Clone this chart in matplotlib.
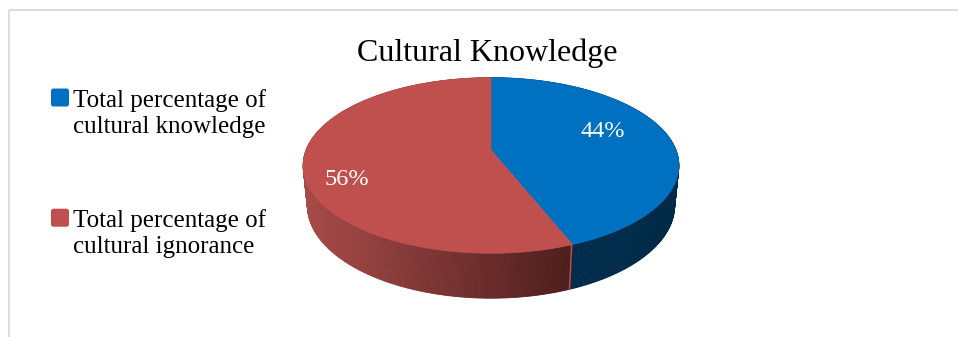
import numpy as np
import matplotlib
matplotlib.use("Agg")
import matplotlib.pyplot as plt
from matplotlib.patches import Polygon, Rectangle, FancyBboxPatch
import matplotlib.colors as mcolors

# ---- data ----
title = "Cultural Knowledge"
categories = ["Total percentage of\ncultural knowledge",
              "Total percentage of\ncultural ignorance"]
values = [44, 56]
value_labels = [f"{v}%" for v in values]

# ---- styles ----
top_colors = ["#0070C0", "#C0504D"]
side_colors = [("#002C4B", "#002A48"), ("#A84B49", "#4C1D1C")]
serif = ["Liberation Serif", "DejaVu Serif"]

# ---- layout (pixel space) ----
W, H = 958, 337
pie_cx, pie_cy = 491, 150        # projected centre of the top face
pie_scale = 931                  # pixels per projected unit
elev = np.arcsin(0.46)           # camera elevation
dist = 5.035                     # camera distance (disc radius = 1)
thick = 0.2456                   # disc thickness
label_pos = [(602.5, 137), (346.5, 185)]
legend_x_box, legend_x_text = 51, 73
legend_baselines = [(106.5, 133), (226.7, 253.3)]

fig = plt.figure(figsize=(W / 100, H / 100), dpi=100)
ax = fig.add_axes([0, 0, 1, 1])
ax.set_xlim(0, W)
ax.set_ylim(H, 0)
ax.axis("off")


def project(x, y, z):
    """Perspective projection of 3-D points to pixel coordinates."""
    s, c = np.sin(elev), np.cos(elev)
    qy = y - dist * s
    qz = z - dist * c
    depth = -(qy * s + qz * c)
    sx = x / depth
    sy = (qy * c - qz * s) / depth
    return pie_cx + pie_scale * sx, pie_cy - pie_scale * sy


def rim(phi, level):
    return project(np.sin(phi), np.full_like(phi, level), -np.cos(phi))


# slice angles, clockwise from 12 o'clock
fracs = np.array(values, dtype=float) / np.sum(values)
bounds = np.concatenate([[0], np.cumsum(fracs)]) * 2 * np.pi

# ---- side wall ----
quads = []
for i in range(len(values)):
    a0, a1 = bounds[i], bounds[i + 1]
    n = max(int((a1 - a0) / (2 * np.pi) * 720), 8)
    phis = np.linspace(a0, a1, n + 1)
    tx, ty = rim(phis, 0.0)
    bx, by = rim(phis, -thick)
    # visible part: facing the viewer (front half)
    front = -np.cos(phis) > -0.15
    xs_vis = tx[front] if front.any() else tx
    xmin, xmax = xs_vis.min(), xs_vis.max()
    light, dark = (np.array(mcolors.to_rgb(c)) for c in side_colors[i])
    for k in range(n):
        xm = 0.5 * (tx[k] + tx[k + 1])
        t = np.clip((xm - xmin) / max(xmax - xmin, 1e-6), 0, 1)
        col = light * (1 - t) + dark * t
        zmid = -np.cos(0.5 * (phis[k] + phis[k + 1]))
        pts = [(tx[k], ty[k]), (tx[k + 1], ty[k + 1]),
               (bx[k + 1], by[k + 1]), (bx[k], by[k])]
        quads.append((zmid, pts, col))

quads.sort(key=lambda q: q[0])
for _, pts, col in quads:
    ax.add_patch(Polygon(pts, closed=True, facecolor=col, edgecolor=col,
                         linewidth=0.6, zorder=2))

# light seam on the wall where the slices meet (front boundary)
for b in bounds[1:-1]:
    if -np.cos(b) > 0:
        sx0, sy0 = rim(np.array([b]), 0.0)
        sx1, sy1 = rim(np.array([b]), -thick)
        ax.plot([sx0[0] - 0.8, sx1[0] - 0.8], [sy0[0], sy1[0]],
                color="#B5544F", linewidth=1.0, zorder=3)

# ---- top faces ----
ccx, ccy = project(np.array([0.0]), np.array([0.0]), np.array([0.0]))
for i in range(len(values)):
    a0, a1 = bounds[i], bounds[i + 1]
    n = max(int((a1 - a0) / (2 * np.pi) * 720), 8)
    phis = np.linspace(a0, a1, n + 1)
    tx, ty = rim(phis, 0.0)
    pts = [(ccx[0], ccy[0])] + list(zip(tx, ty))
    ax.add_patch(Polygon(pts, closed=True, facecolor=top_colors[i],
                         edgecolor=top_colors[i], linewidth=0.5, zorder=4))

# ---- data labels ----
for (lx, ly), txt in zip(label_pos, value_labels):
    ax.text(lx, ly, txt, color="white", fontsize=17.5, family=serif,
            ha="center", va="baseline", zorder=6)

# ---- title ----
ax.text(487.5, 61, title, fontsize=23, family=serif, color="black",
        ha="center", va="baseline", zorder=6)

# ---- legend ----
for i, cat in enumerate(categories):
    b1, b2 = legend_baselines[i]
    ax.add_patch(FancyBboxPatch((legend_x_box + 1.5, b1 - 16.5), 15, 15,
                                boxstyle="round,pad=1.5,rounding_size=2.5",
                                facecolor=top_colors[i], edgecolor="none",
                                zorder=5))
    for line, base in zip(cat.split("\n"), (b1, b2)):
        ax.text(legend_x_text, base, line, fontsize=18, family=serif,
                color="black", ha="left", va="baseline", zorder=6)

# ---- chart area border ----
ax.add_patch(Rectangle((9, 10), W, H, facecolor="none", edgecolor="#D9D9D9",
                       linewidth=1.3, zorder=1))

fig.savefig("out.png", dpi=100)
